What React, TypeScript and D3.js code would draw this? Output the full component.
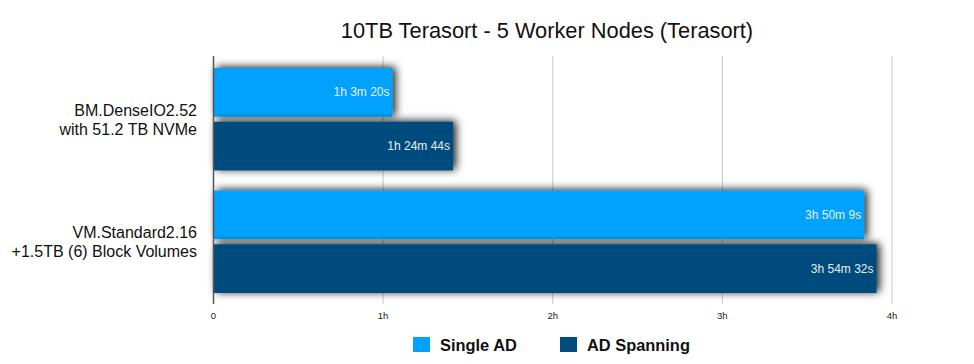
import React from "react";
import * as d3 from "d3";

const categories = [
  ["BM.DenseIO2.52", "with 51.2 TB NVMe"],
  ["VM.Standard2.16", "+1.5TB (6) Block Volumes"],
];
const seriesNames = ["Single AD", "AD Spanning"];
// durations in seconds
const singleAD = [3800, 13809];
const adSpanning = [5084, 14072];
const singleADLabels = ["1h 3m 20s", "3h 50m 9s"];
const adSpanningLabels = ["1h 24m 44s", "3h 54m 32s"];
const tickValues = [0, 3600, 7200, 10800, 14400];
const tickLabels = ["0", "1h", "2h", "3h", "4h"];
const colors = ["#03A2FD", "#004C7E"];

const W = 974;
const H = 364;
const left = 213.5;
const right = 892;
const top = 56;
const bottom = 304;

export default function App() {
  const x = d3.scaleLinear().domain([0, 14400]).range([left, right]);
  const yGroup = d3.scaleBand<number>().domain([0, 1]).range([68, 293]).paddingInner(0.164).paddingOuter(0);
  const ySeries = d3.scaleBand<number>().domain([0, 1]).range([0, yGroup.bandwidth()]).paddingInner(0.094);
  const series = [
    { vals: singleAD, labels: singleADLabels },
    { vals: adSpanning, labels: adSpanningLabels },
  ];
  const font = "Liberation Sans, Arial, Helvetica, sans-serif";
  return (
    <svg width={W} height={H} style={{ position: "absolute", left: 0, top: 0 }} fontFamily={font}>
      <defs>
        <filter id="shadow" x="-10%" y="-40%" width="130%" height="180%">
          <feDropShadow dx="3" dy="-1" stdDeviation="4" floodColor="#000" floodOpacity="0.9" />
        </filter>
      </defs>
      <rect width={W} height={H} fill="#fff" />
      <text x={547} y={37.5} textAnchor="middle" fontSize={21.8} fill="#111">
        10TB Terasort - 5 Worker Nodes (Terasort)
      </text>
      {tickValues.slice(1).map((t) => (
        <line key={t} x1={x(t)} x2={x(t)} y1={top} y2={bottom} stroke="#c8c8c8" strokeWidth={1} />
      ))}
      {categories.map((c, gi) =>
        series.map((s, si) => {
          const y0 = (yGroup(gi) as number) + (ySeries(si) as number);
          const h = ySeries.bandwidth();
          const xe = x(s.vals[gi]);
          return (
            <g key={`${gi}-${si}`}>
              <rect x={x(0)} y={y0} width={xe - x(0)} height={h} fill={colors[si]} filter="url(#shadow)" />
              <text x={xe - 3} y={y0 + h / 2 + 4} textAnchor="end" fontSize={12} fill="#e8eef4">
                {s.labels[gi]}
              </text>
            </g>
          );
        })
      )}
      <line x1={left} x2={left} y1={top} y2={bottom} stroke="#555" strokeWidth={1.5} />
      {tickValues.map((t, i) => (
        <text key={t} x={x(t)} y={319} textAnchor="middle" fontSize={9.5} fill="#222">
          {tickLabels[i]}
        </text>
      ))}
      {categories.map((c, gi) => {
        const cy = (yGroup(gi) as number) + yGroup.bandwidth() / 2;
        return (
          <text key={gi} x={197} textAnchor="end" fontSize={16} fill="#111">
            <tspan x={197} y={cy - 3.5}>{c[0]}</tspan>
            <tspan x={197} y={cy + 15.5}>{c[1]}</tspan>
          </text>
        );
      })}
      {seriesNames.map((n, i) => {
        const lx = i === 0 ? 413 : 560;
        return (
          <g key={n}>
            <rect x={lx} y={337} width={17} height={15} fill={colors[i]} />
            <text x={lx + 27} y={351} fontSize={16.4} fontWeight="bold" fill="#111">
              {n}
            </text>
          </g>
        );
      })}
    </svg>
  );
}
